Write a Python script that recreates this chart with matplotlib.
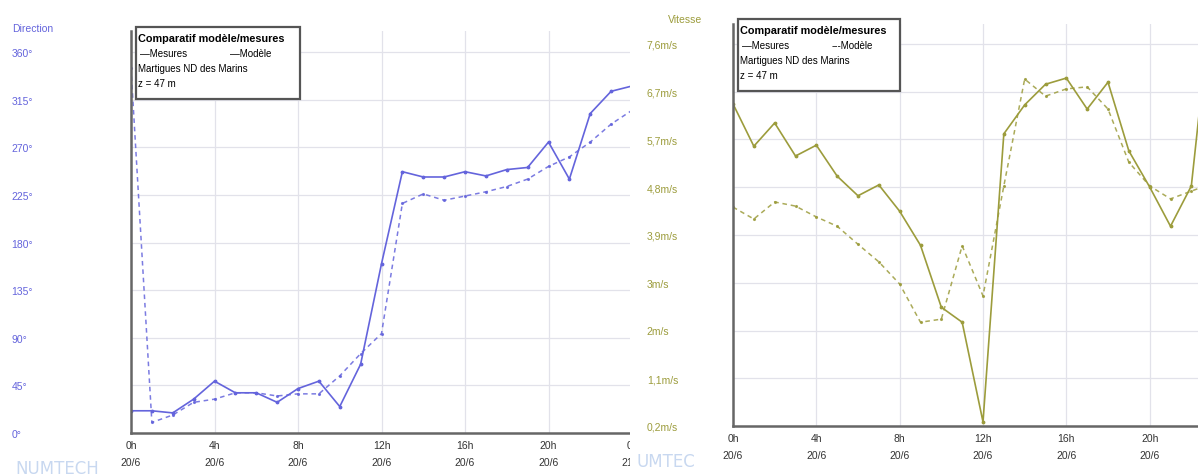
import matplotlib
matplotlib.use('Agg')
import matplotlib.pyplot as plt
from matplotlib.patches import Rectangle
from matplotlib.transforms import Bbox, TransformedBbox

plt.rcParams['font.family'] = ['Liberation Sans', 'DejaVu Sans']

# hourly values, 20/6
HOURS_DIR = list(range(25))
DIR_MESURES = [21, 21, 19, 32, 49, 38, 38, 29, 42, 49, 25, 65, 160,
               247, 242, 242, 247, 243, 249, 251, 275, 240, 302, 323, 328]
DIR_MODELE = [345, 10, 17, 29, 32, 38, 38, 35, 37, 37, 54, 75, 94,
              217, 226, 220, 224, 228, 233, 240, 252, 261, 275, 292, 305]

HOURS_VIT = list(range(24))
VIT_MESURES = [6.44, 5.62, 6.07, 5.43, 5.64, 5.04, 4.66, 4.87, 4.36, 3.70, 2.50, 2.21,
               0.28, 5.86, 6.42, 6.82, 6.94, 6.34, 6.86, 5.53, 4.83, 4.07, 4.85, 8.6]
VIT_MODELE = [4.44, 4.21, 4.54, 4.46, 4.25, 4.07, 3.72, 3.38, 2.95, 2.21, 2.27, 3.69,
              2.72, 4.85, 6.92, 6.59, 6.73, 6.77, 6.34, 5.31, 4.85, 4.60, 4.75, 4.9]

X_TICKS = [0, 4, 8, 12, 16, 20, 24]
X_LABELS = ['0h\n20/6', '4h\n20/6', '8h\n20/6', '12h\n20/6', '16h\n20/6', '20h\n20/6', '0h\n21/6']

DIR_TICKS = [0, 45, 90, 135, 180, 225, 270, 315, 360]
DIR_LABELS = ['0°', '45°', '90°', '135°', '180°', '225°', '270°', '315°', '360°']

VIT_TICKS = [0.2 + 0.925 * i for i in range(9)]
VIT_LABELS = ['0,2m/s', '1,1m/s', '2m/s', '3m/s', '3,9m/s', '4,8m/s', '5,7m/s', '6,7m/s', '7,6m/s']

BLUE = '#6464dc'
OLIVE = '#9c9c3c'
GRID = '#e2e2ea'
SPINE = '#666666'
SEAM = 630

W, H = 1198, 477
fig = plt.figure(figsize=(W / 100, H / 100), dpi=100)


def fig_box(x0, y0, x1, y1):
    # pixel box (top-left origin) -> figure fraction [left, bottom, width, height]
    return [x0 / W, 1 - y1 / H, (x1 - x0) / W, (y1 - y0) / H]


def style_axes(ax, color, pad, nticks):
    ax.set_xlim(0, 24)
    ax.set_xticks(X_TICKS[:nticks])
    ax.set_xticklabels(X_LABELS[:nticks], fontsize=7.5, color='#333333', linespacing=1.9)
    ax.grid(True, color=GRID, linewidth=0.9)
    ax.set_axisbelow(True)
    for s in ('top', 'right'):
        ax.spines[s].set_visible(False)
    for s in ('left', 'bottom'):
        ax.spines[s].set_color(SPINE)
        ax.spines[s].set_linewidth(1.8)
    ax.tick_params(length=0, pad=5)
    ax.tick_params(axis='y', pad=pad, labelcolor=color, labelsize=7.5)
    for lab in ax.get_yticklabels():
        lab.set_horizontalalignment('left')


# left panel: direction
ax1 = fig.add_axes(fig_box(131, 32, 632, 434))
ax1.plot(HOURS_DIR, DIR_MESURES, color=BLUE, lw=1.2, marker='.', ms=3.5)
ax1.plot(HOURS_DIR, DIR_MODELE, color=BLUE, lw=1.1, ls=(0, (3, 2.5)), marker='.', ms=2.5, alpha=0.85)
ax1.set_ylim(0, 380)
ax1.set_yticks(DIR_TICKS)
ax1.set_yticklabels(DIR_LABELS)
style_axes(ax1, BLUE, 86, 7)
# the screenshot cuts the left panel at the seam
seam_clip = TransformedBbox(Bbox([[0, 0], [SEAM / W, 1]]), fig.transFigure)
for lab in ax1.get_xticklabels():
    lab.set_clip_box(seam_clip)
    lab.set_clip_on(True)

fig.add_artist(Rectangle((SEAM / W, 0), 1 - SEAM / W, 1, transform=fig.transFigure,
                         facecolor='white', edgecolor='none', zorder=0.5))

# right panel: speed
ax2 = fig.add_axes(fig_box(733, 25, 1233, 427))
ax2.set_zorder(1)
ax2.plot(HOURS_VIT, VIT_MESURES, color=OLIVE, lw=1.2, marker='.', ms=3.5)
ax2.plot(HOURS_VIT, VIT_MODELE, color=OLIVE, lw=1.1, ls=(0, (3, 2.5)), marker='.', ms=2.5, alpha=0.85)
ax2.set_ylim(0.2, 0.2 + 7.4 * 402 / 382)
ax2.set_yticks(VIT_TICKS)
ax2.set_yticklabels(VIT_LABELS)
style_axes(ax2, OLIVE, 62, 6)

# axis titles
fig.text(12 / W, 1 - 29 / H, 'Direction', color=BLUE, fontsize=7.5, va='center')
fig.text(668 / W, 1 - 20 / H, 'Vitesse', color=OLIVE, fontsize=7.5, va='center')


def legend_box(x0, y0, x1, y1, modele_label):
    fig.add_artist(Rectangle((x0 / W, 1 - y1 / H), (x1 - x0) / W, (y1 - y0) / H,
                             transform=fig.transFigure, facecolor='white',
                             edgecolor='#555555', lw=1.6, zorder=4))
    fig.text((x0 + 2) / W, 1 - (y0 + 11) / H, 'Comparatif modèle/mesures',
             fontsize=7.8, fontweight='bold', va='center', zorder=5)
    fig.text((x0 + 4) / W, 1 - (y0 + 26) / H, '—Mesures', fontsize=7, va='center', zorder=5)
    fig.text((x0 + 94) / W, 1 - (y0 + 26) / H, modele_label, fontsize=7, va='center', zorder=5)
    fig.text((x0 + 2) / W, 1 - (y0 + 41) / H, 'Martigues ND des Marins', fontsize=7, va='center', zorder=5)
    fig.text((x0 + 2) / W, 1 - (y0 + 56) / H, 'z = 47 m', fontsize=7, va='center', zorder=5)


legend_box(136, 28, 300, 100, '—Modèle')
legend_box(738, 20, 900, 92, '---Modèle')

# watermarks
fig.text(15 / W, 1 - 469 / H, 'NUMTECH', family='DejaVu Sans', color='#c8d8f0',
         fontsize=12, va='center', zorder=2)
fig.text(636 / W, 1 - 462 / H, 'UMTEC', family='DejaVu Sans', color='#c8d8f0',
         fontsize=12, va='center', zorder=0.6)

fig.savefig('out.png', dpi=100)
